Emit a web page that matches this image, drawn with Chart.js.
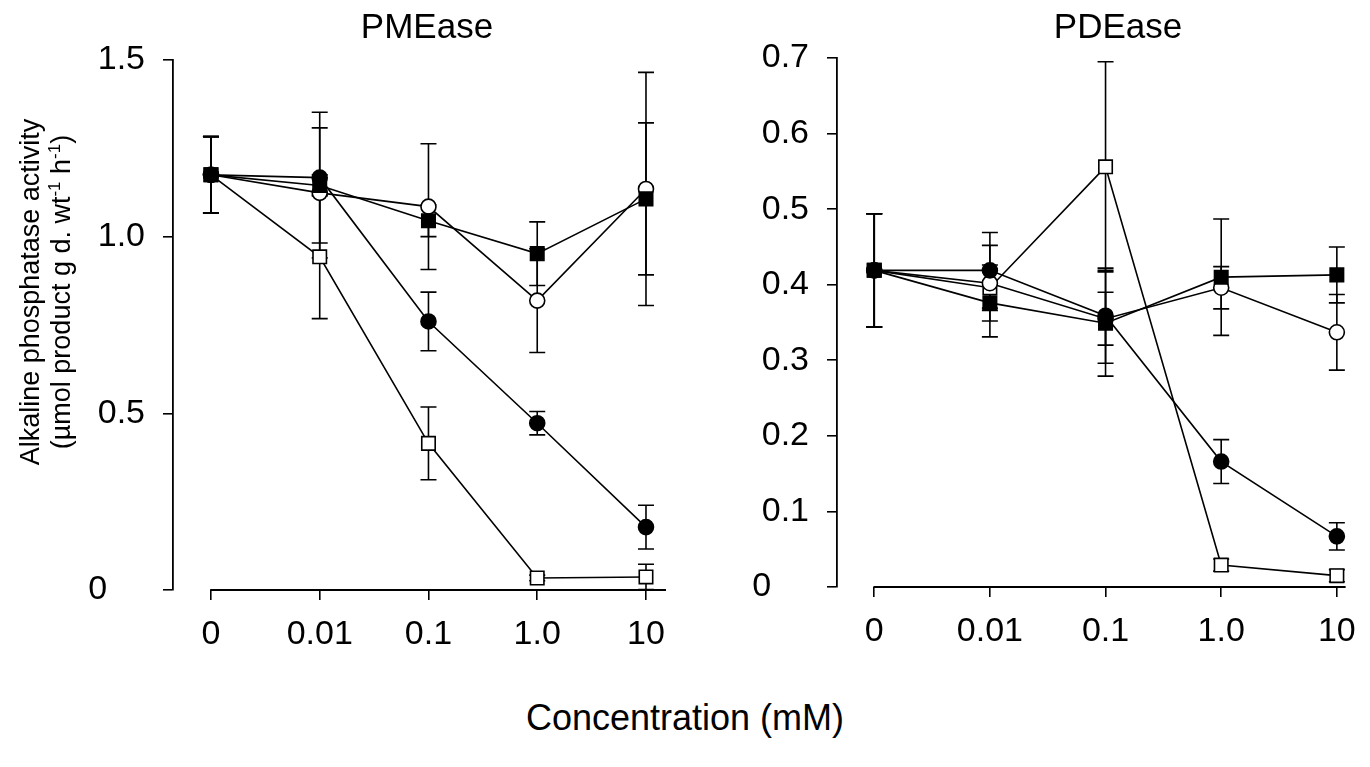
<!DOCTYPE html>
<html>
<head>
<meta charset="utf-8">
<script src="https://cdn.jsdelivr.net/npm/chart.js@4.4.1/dist/chart.umd.min.js"></script>
<style>
  body { margin: 0; background: #fff; width: 1370px; height: 767px; position: relative; overflow: hidden;
         font-family: "Liberation Sans", Arial, sans-serif; color: #000; }
  canvas { position: absolute; top: 0; }
  #pmeChart { left: 0; }
  #pdeChart { left: 700px; }
  .lbl { position: absolute; white-space: nowrap; transform: translate(-50%, -50%); }
  .ylbl { position: absolute; white-space: nowrap; font-size: 27px; transform: translate(-50%, -50%) rotate(-90deg); }
  .ylbl sup { font-size: 17px; }
</style>
</head>
<body>
<canvas id="pmeChart" width="700" height="680"></canvas>
<canvas id="pdeChart" width="670" height="680"></canvas>

<div class="lbl" style="left:427px; top:26px; font-size:35px;">PMEase</div>
<div class="lbl" style="left:1118px; top:26px; font-size:35px;">PDEase</div>
<div class="ylbl" style="left:30px; top:292px;">Alkaline phosphatase activity</div>
<div class="ylbl" style="left:61px; top:292px;">(µmol product g d. wt<sup>-1</sup> h<sup>-1</sup>)</div>
<div class="lbl" style="left:685px; top:718px; font-size:36px;">Concentration (mM)</div>

<script>
// concentrations on the x axis (mM)
const concLabels = ['0', '0.01', '0.1', '1.0', '10'];

// PMEase activity, mean and error for each treatment
const pmeClosedSquare = [1.175, 1.145, 1.045, 0.952, 1.107];
const pmeClosedSquareErr = [0.108, 0.03, 0.045, 0.09, 0.215];
const pmeOpenCircle = [1.175, 1.124, 1.085, 0.819, 1.135];
const pmeOpenCircleErr = [0.108, 0.184, 0.178, 0.147, 0.33];
const pmeClosedCircle = [1.175, 1.167, 0.76, 0.472, 0.178];
const pmeClosedCircleErr = [0.108, 0.185, 0.083, 0.033, 0.062];
const pmeOpenSquare = [1.175, 0.943, 0.415, 0.034, 0.037];
const pmeOpenSquareErr = [0.108, 0.175, 0.103, 0.008, 0.036];
const pmeTicks = [0, 0.5, 1.0, 1.5];

// PDEase activity
const pdeClosedSquare = [0.419, 0.376, 0.349, 0.41, 0.413];
const pdeClosedSquareErr = [0.075, 0.045, 0.07, 0.077, 0.037];
const pdeOpenCircle = [0.419, 0.402, 0.355, 0.396, 0.337];
const pdeOpenCircleErr = [0.075, 0.05, 0.035, 0.028, 0.05];
const pdeClosedCircle = [0.419, 0.419, 0.359, 0.166, 0.067];
const pdeClosedCircleErr = [0.075, 0.05, 0.063, 0.029, 0.018];
const pdeOpenSquare = [0.419, 0.396, 0.556, 0.029, 0.015];
const pdeOpenSquareErr = [0.075, 0.03, 0.139, 0.008, 0.008];
const pdeTicks = [0, 0.1, 0.2, 0.3, 0.4, 0.5, 0.6, 0.7];

Chart.defaults.font.family = '"Liberation Sans", Arial, sans-serif';
Chart.defaults.color = '#000';

// vertical error bars with caps, under the markers
const errorBars = {
  id: 'errorBars',
  beforeDatasetsDraw(chart) {
    const ctx = chart.ctx, xs = chart.scales.x, ys = chart.scales.y;
    ctx.save();
    ctx.strokeStyle = '#000';
    ctx.lineWidth = 1.6;
    chart.data.datasets.forEach(ds => {
      ds.data.forEach((p, i) => {
        const e = ds.errors[i];
        const px = xs.getPixelForValue(p.x);
        const top = ys.getPixelForValue(p.y + e);
        const bot = ys.getPixelForValue(Math.max(p.y - e, 0));
        ctx.beginPath();
        ctx.moveTo(px, top); ctx.lineTo(px, bot);
        ctx.moveTo(px - 8, top); ctx.lineTo(px + 8, top);
        ctx.moveTo(px - 8, bot); ctx.lineTo(px + 8, bot);
        ctx.stroke();
      });
    });
    ctx.restore();
  }
};

// x axis line starts at the first concentration, apart from the y axis
const detachedXAxis = {
  id: 'detachedXAxis',
  afterDraw(chart) {
    const ctx = chart.ctx, xs = chart.scales.x;
    const y0 = chart.scales.y.getPixelForValue(0);
    ctx.save();
    ctx.strokeStyle = '#000';
    ctx.lineWidth = 1.8;
    ctx.beginPath();
    ctx.moveTo(xs.getPixelForValue(0) - 0.8, y0);
    ctx.lineTo(xs.right, y0);
    ctx.stroke();
    ctx.restore();
  }
};

function series(values, errors, style, filled) {
  return {
    data: values.map((v, i) => ({ x: i, y: v })),
    errors: errors,
    showLine: true,
    borderColor: '#000',
    borderWidth: 1.6,
    pointStyle: style,
    pointRadius: style === 'rect' ? 9.5 : 7.5,
    pointBackgroundColor: filled ? '#000' : '#fff',
    pointBorderColor: '#000',
    pointBorderWidth: 1.6,
    clip: false
  };
}

function makePanel(id, sets, cfg) {
  return new Chart(document.getElementById(id), {
    type: 'scatter',
    data: { datasets: sets },
    options: {
      responsive: false,
      animation: false,
      layout: { padding: { top: cfg.top, right: cfg.right, left: 0, bottom: 0 } },
      plugins: { legend: { display: false }, tooltip: { enabled: false } },
      scales: {
        x: {
          type: 'linear',
          min: cfg.xMin,
          max: cfg.xMax,
          afterBuildTicks: s => { s.ticks = concLabels.map((_, i) => ({ value: i })); },
          afterFit: s => { s.height = cfg.xHeight; },
          border: { display: false },
          grid: { drawOnChartArea: false, tickLength: 10, color: '#000', lineWidth: 1.6 },
          ticks: { padding: 14, font: { size: 34 }, maxRotation: 0, autoSkip: false,
                   callback: v => concLabels[v] }
        },
        y: {
          min: 0,
          max: cfg.yTicks[cfg.yTicks.length - 1],
          afterBuildTicks: s => { s.ticks = cfg.yTicks.map(v => ({ value: v })); },
          afterFit: s => { s.width = cfg.yWidth; },
          border: { display: true, color: '#000', width: 1.8 },
          grid: { drawOnChartArea: false, tickLength: 10, color: '#000', lineWidth: 1.6 },
          // the zero label sits further left than the decimal labels
          ticks: { padding: 18, font: { size: 34 }, autoSkip: false,
                   callback: v => v === 0 ? '0    ' : v.toFixed(1) }
        }
      }
    },
    plugins: [errorBars, detachedXAxis]
  });
}

makePanel('pmeChart', [
  series(pmeClosedSquare, pmeClosedSquareErr, 'rect', true),
  series(pmeClosedCircle, pmeClosedCircleErr, 'circle', true),
  series(pmeOpenCircle, pmeOpenCircleErr, 'circle', false),
  series(pmeOpenSquare, pmeOpenSquareErr, 'rect', false)
], { top: 60, right: 34, yWidth: 173, xHeight: 90, xMin: -0.349, xMax: 4.184, yTicks: pmeTicks });

makePanel('pdeChart', [
  series(pdeClosedSquare, pdeClosedSquareErr, 'rect', true),
  series(pdeClosedCircle, pdeClosedCircleErr, 'circle', true),
  series(pdeOpenCircle, pdeOpenCircleErr, 'circle', false),
  series(pdeOpenSquare, pdeOpenSquareErr, 'rect', false)
], { top: 58, right: 14, yWidth: 137, xHeight: 93, xMin: -0.322, xMax: 4.076, yTicks: pdeTicks });
</script>
</body>
</html>
